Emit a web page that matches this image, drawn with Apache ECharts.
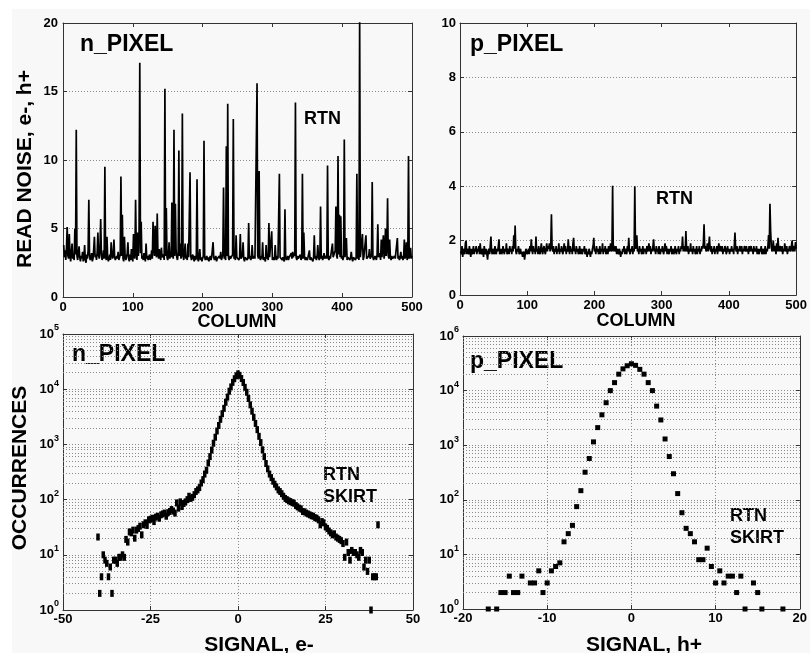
<!DOCTYPE html>
<html>
<head>
<meta charset="utf-8">
<script src="https://cdn.jsdelivr.net/npm/echarts@6/dist/echarts.min.js"></script>
<style>
  html, body { margin: 0; padding: 0; background: #ffffff; }
  #panel { position: absolute; left: 12px; top: 9px; right: 0; bottom: 0; background: #f8f8f8; }
  #chart { position: absolute; left: 0; top: 0; width: 810px; height: 653px; }
</style>
</head>
<body>
<div id="panel"></div>
<div id="chart"></div>
<script>
// Read noise per column, n-channel pixels (e-), columns 1..500
const nReadNoise = [
  3.8,2.9,3.4,2.7,3.6,5.1,3.0,2.8,4.6,3.1,2.6,3.3,3.9,2.8,3.0,2.7,5.0,3.1,12.2,3.0,2.7,3.2,3.7,2.9,2.6,
  3.0,2.8,3.3,2.6,2.9,3.8,2.7,2.5,3.1,2.8,3.4,7.1,3.0,2.7,2.9,3.2,2.6,2.8,3.5,4.4,2.9,3.1,2.7,3.3,4.7,
  3.0,2.8,3.6,5.7,3.1,2.7,2.9,3.4,2.8,9.5,3.0,2.7,4.4,2.9,2.6,2.8,3.1,2.7,4.0,3.2,2.8,3.0,4.2,2.9,2.7,
  2.6,3.0,2.8,3.3,2.7,2.9,3.1,8.8,3.0,6.0,2.8,2.6,4.4,3.0,2.7,2.9,3.2,4.0,2.8,2.6,3.1,2.7,3.5,2.9,2.6,
  4.6,3.0,2.8,7.1,3.3,2.7,4.7,3.0,4.8,17.1,3.2,5.5,2.8,3.0,2.7,3.2,2.9,2.6,3.9,2.8,3.0,2.7,2.9,3.1,2.7,
  2.9,3.4,2.8,5.5,3.6,3.0,5.2,3.3,2.9,6.1,3.2,2.8,3.5,3.0,2.7,3.6,2.9,2.8,3.1,2.7,15.2,3.0,6.5,2.9,2.7,
  3.0,4.0,2.8,3.2,2.9,6.9,3.1,2.8,12.2,3.0,6.8,3.4,2.9,2.7,3.2,10.7,3.0,3.9,2.8,3.1,13.4,3.0,2.7,3.2,3.9,
  2.8,3.0,2.7,3.9,2.9,2.8,9.1,3.0,2.7,2.9,3.1,2.8,2.6,3.0,2.7,2.9,8.6,2.8,2.6,3.0,3.5,2.7,2.9,2.6,2.8,
  3.0,11.4,2.9,2.7,2.8,3.0,2.7,2.9,2.6,2.8,3.0,2.7,2.9,2.8,4.0,2.9,2.7,2.8,3.0,2.6,2.8,2.9,2.7,3.0,2.8,
  3.3,2.7,2.9,3.1,8.0,2.8,3.0,2.7,11.0,3.0,14.1,2.9,2.7,3.0,2.8,2.9,2.7,3.1,13.0,2.8,3.0,2.7,4.5,2.9,2.8,
  3.0,2.7,2.9,4.6,2.8,2.7,3.0,4.0,2.8,2.6,2.9,2.8,3.0,2.7,2.9,5.4,2.8,3.0,2.7,2.9,3.8,2.8,2.7,3.0,2.8,
  2.9,2.7,15.6,3.0,2.8,9.2,2.9,2.7,3.0,2.8,4.0,2.7,2.9,2.8,2.6,3.8,2.8,3.0,2.7,5.4,2.9,2.8,3.0,4.8,2.7,
  2.9,2.8,2.7,3.8,2.9,2.7,3.0,2.8,2.7,9.0,2.9,2.8,3.0,2.7,2.9,2.8,2.6,6.4,2.9,2.7,2.8,3.0,2.7,2.9,2.8,
  3.0,3.2,2.8,3.3,2.9,3.2,3.0,14.2,2.9,2.7,3.0,2.8,2.7,2.9,3.1,2.7,2.9,9.0,2.8,4.7,3.0,2.7,2.9,2.8,2.7,
  2.9,2.8,3.4,2.7,2.9,3.0,2.8,2.6,2.9,4.5,2.8,3.0,2.7,2.9,3.8,3.0,2.7,2.9,6.6,2.8,3.0,2.7,2.9,3.2,2.8,
  2.7,3.0,2.8,9.6,2.9,2.7,3.0,2.8,2.9,2.7,3.9,2.9,2.8,3.0,3.4,6.6,3.0,2.8,10.3,3.1,6.0,2.9,5.9,2.8,3.0,
  2.7,3.0,11.5,2.9,2.8,4.3,2.7,2.9,3.0,2.8,2.7,2.9,3.3,2.8,2.6,2.9,2.8,3.0,2.7,2.9,9.0,2.8,3.1,2.7,20.5,
  2.9,3.0,2.8,4.6,2.7,2.9,2.8,3.0,4.5,2.8,2.7,2.9,3.0,3.5,2.8,2.7,3.0,8.4,2.9,2.7,2.8,3.0,2.9,2.7,3.1,
  5.3,2.9,2.8,3.2,2.7,4.2,2.9,3.0,4.5,2.8,3.2,5.0,3.0,3.6,7.2,3.0,2.8,4.2,2.9,2.7,3.0,2.8,2.9,2.7,3.0,
  2.8,2.7,2.9,4.3,2.8,3.0,2.7,2.9,3.3,2.8,3.0,2.7,2.9,4.2,2.8,3.0,4.0,2.7,2.9,10.3,2.8,3.0,3.6,2.8,3.0
];

// Read noise per column, p-channel pixels (h+), columns 1..500
const pReadNoise = [
  1.6,1.5,1.8,1.4,1.7,1.6,1.5,1.9,2.0,1.5,1.7,1.6,1.5,1.8,1.6,1.4,1.7,1.5,1.6,1.8,1.5,1.7,1.6,1.8,1.5,
  1.7,1.6,1.8,1.5,1.9,1.6,1.5,1.7,1.6,1.4,1.8,1.6,1.5,1.7,1.5,1.3,1.6,1.7,1.5,1.8,2.15,1.6,1.5,1.7,1.6,
  1.5,1.8,1.6,1.5,1.7,1.6,1.8,2.05,1.5,1.6,1.7,1.5,1.6,1.8,1.6,1.5,1.7,1.6,1.9,1.5,1.6,1.7,1.5,1.8,1.6,
  1.7,1.5,1.8,1.6,2.2,1.7,2.55,1.6,1.5,1.7,1.6,1.8,1.5,1.6,1.7,1.5,1.6,1.4,1.5,1.6,1.3,1.5,1.7,1.6,1.5,
  1.6,1.7,1.5,1.8,1.6,2.05,1.7,1.5,1.8,1.6,1.7,1.5,2.15,1.6,1.7,1.5,1.8,1.6,1.5,1.7,1.9,1.6,1.5,1.7,1.8,
  1.6,1.5,1.7,1.9,1.6,1.8,1.7,1.9,1.6,1.8,2.97,1.7,1.6,1.8,1.5,1.7,1.6,1.8,1.5,1.7,1.6,1.9,1.5,1.7,1.6,
  1.8,1.6,1.5,1.7,1.9,1.6,1.8,1.5,1.7,1.6,2.05,1.7,1.5,1.8,1.6,1.7,1.5,1.9,2.1,1.6,1.7,1.5,1.8,1.6,1.7,
  1.5,1.6,1.8,1.5,1.7,1.6,1.5,1.7,1.6,1.8,1.5,1.6,1.7,1.4,1.6,1.5,1.7,1.6,1.4,1.6,1.5,1.7,1.8,2.1,1.6,
  1.7,1.5,1.8,1.6,1.7,1.5,1.6,1.8,1.5,1.7,1.6,1.9,1.5,1.7,1.6,1.8,1.5,1.6,1.7,1.5,1.8,1.6,1.7,1.9,1.6,
  1.7,4.02,1.6,1.8,1.7,1.6,1.8,1.5,1.7,1.6,1.5,1.7,1.6,1.4,1.6,1.5,1.7,1.6,1.8,1.5,1.7,1.6,1.5,1.8,1.6,
  2.1,1.6,1.5,1.7,1.6,1.8,1.5,1.7,1.6,4.0,1.7,1.8,2.2,1.6,1.7,1.5,1.8,1.6,1.7,1.5,1.6,1.8,1.5,1.7,1.6,
  1.7,1.5,1.8,1.6,1.7,1.9,1.6,1.8,1.5,1.7,1.6,1.8,2.05,1.6,1.7,1.5,1.8,1.6,1.7,1.5,1.8,1.6,1.5,1.7,1.6,
  1.8,1.6,1.5,1.7,1.9,1.6,1.8,1.5,1.7,1.6,1.5,1.7,1.6,1.8,1.5,1.6,1.7,1.5,1.6,1.8,1.6,1.5,1.7,1.6,1.8,
  1.5,1.7,1.6,1.8,1.7,2.15,1.6,1.8,1.7,1.6,2.35,1.7,1.6,1.8,1.5,1.7,1.6,1.9,1.6,1.7,1.5,1.8,1.6,1.7,1.5,
  1.6,1.8,1.5,1.7,1.6,1.8,1.5,1.7,1.6,1.8,1.7,1.9,2.6,1.7,1.8,1.6,1.7,1.9,1.6,1.8,2.15,1.7,1.6,1.8,1.5,
  1.7,1.6,1.8,1.5,1.7,1.6,1.8,1.5,1.7,1.9,1.6,1.8,1.7,1.6,1.8,1.5,1.7,1.6,1.8,1.7,1.5,1.6,1.8,1.6,1.7,
  1.5,1.7,1.6,1.8,1.6,1.7,1.5,1.8,2.3,1.7,1.6,1.8,1.5,1.7,1.6,1.8,1.7,1.6,1.8,1.5,1.7,1.6,1.8,1.7,1.6,
  1.8,1.6,1.7,1.5,1.8,1.6,1.7,1.8,1.6,1.7,1.5,1.8,1.6,1.7,1.6,1.8,1.5,1.7,1.6,1.5,1.7,1.6,1.8,1.5,1.6,
  1.7,1.5,1.6,1.8,1.5,1.7,1.6,1.8,2.2,1.7,3.35,2.4,1.8,1.6,1.7,2.0,1.6,1.8,1.7,1.5,1.9,1.6,2.1,1.7,1.6,
  1.8,1.7,1.6,1.8,1.5,1.7,1.6,1.9,1.7,1.6,1.8,1.5,1.7,1.6,1.8,1.7,1.6,1.8,2.0,1.6,1.7,1.8,1.6,1.95,1.7
];

// Signal histogram, n-channel pixels: bin centres (e-) and counts
const nSignal = [
  -40,-39.5,-39,-38.5,-38,-37.5,-37,-36.5,-36,-35.5,-35,-34.5,-34,-33.5,-33,-32.5,-32,-31.5,-31,-30.5,
  -30,-29.5,-29,-28.5,-28,-27.5,-27,-26.5,-26,-25.5,-25,-24.5,-24,-23.5,-23,-22.5,-22,-21.5,-21,-20.5,
  -20,-19.5,-19,-18.5,-18,-17.5,-17,-16.5,-16,-15.5,-15,-14.5,-14,-13.5,-13,-12.5,-12,-11.5,-11,-10.5,
  -10,-9.5,-9,-8.5,-8,-7.5,-7,-6.5,-6,-5.5,-5,-4.5,-4,-3.5,-3,-2.5,-2,-1.5,-1,-0.5,
  0,0.5,1,1.5,2,2.5,3,3.5,4,4.5,5,5.5,6,6.5,7,7.5,8,8.5,9,9.5,
  10,10.5,11,11.5,12,12.5,13,13.5,14,14.5,15,15.5,16,16.5,17,17.5,18,18.5,19,19.5,
  20,20.5,21,21.5,22,22.5,23,23.5,24,24.5,25,25.5,26,26.5,27,27.5,28,28.5,29,29.5,
  30,30.5,31,31.5,32,32.5,33,33.5,34,34.5,35,35.5,36,36.5,37,37.5,38,38.5,39,39.5,
  40
];
const nCount = [
  21,2,4,10,8,7,4,6,2,8,8,7,9,9,10,9,19,17,26,25,
  28,20,28,30,33,23,35,38,34,43,44,46,40,48,50,46,53,55,57,50,
  58,61,66,62,57,87,70,91,75,85,91,100,115,105,110,123,140,150,165,200,
  230,290,340,460,600,790,1050,1350,1750,2200,2850,3600,4500,5800,7200,9200,11000,13300,15500,17500,
  19000,17800,15600,13200,10800,8800,6800,5200,4000,3100,2400,1850,1400,1080,800,600,450,360,290,250,
  215,190,170,150,140,128,115,105,100,95,92,88,86,78,74,70,68,61,60,57,
  55,53,51,50,47,46,43,35,40,38,32,30,27,25,23,24,21,20,19,18,
  16,9,17,11,8,12,11,11,10,9,12,11,6,8,5,8,1,4,4,4,
  35
];

// Signal histogram, p-channel pixels: bin centres (h+) and counts
const pSignal = [
  -17,-16,-15.5,-15,-14.5,-14,-13.5,-13,-12,-11.5,-11,-10.5,-10,-9.5,-9,-8.5,-8,-7.5,-7,-6.5,
  -6,-5.5,-5,-4.5,-4,-3.5,-3,-2.5,-2,-1.5,-1,-0.5,0,0.5,1,1.5,2,2.5,3,3.5,
  4,4.5,5,5.5,6,6.5,7,7.5,8,8.5,9,9.5,10,10.5,11,11.5,12,12.5,13,13.5,
  14.5,15,15.5,18
];
const pCount = [
  1,1,2,2,4,2,2,4,3,3,5,2,3,5,6,7,17,24,34,75,
  147,320,570,1150,2100,3600,6000,10000,14000,20000,25000,28500,31000,29000,24500,20000,14000,10000,5200,2900,
  1300,620,300,130,58,30,24,17,8,8,13,6,3,5,3,4,4,2,4,1,
  3,2,1,1
];

// Decade exponents printed on the occurrence axes
const nOccExponents = ['0', '1', '2', '3', '4', '5'];
const pOccExponents = ['0', '1', '2', '3', '4', '6'];

const FONT = '"Liberation Sans", Arial, Helvetica, sans-serif';
const INK = '#000000';
const FRAME = '#333333';
const DOTTED = { color: '#8a8a8a', width: 1, type: [1, 2] };

const chart = echarts.init(document.getElementById('chart'), null, { renderer: 'canvas' });

const tickStyle = { show: true, inside: true, length: 4, lineStyle: { color: FRAME, width: 1 } };
const lineStyleFrame = { show: true, onZero: false, lineStyle: { color: FRAME, width: 1 } };
const labelBase = { color: INK, fontFamily: FONT, fontWeight: 'bold', fontSize: 13 };

function xAxes(gridIndex, min, max, interval, margin, vGrid) {
  return [
    { type: 'value', gridIndex, position: 'bottom', min, max, interval,
      axisLine: lineStyleFrame, axisTick: tickStyle,
      axisLabel: Object.assign({ show: true, margin, formatter: v => String(v) }, labelBase),
      splitLine: { show: vGrid, lineStyle: DOTTED } },
    { type: 'value', gridIndex, position: 'top', min, max, interval,
      axisLine: lineStyleFrame, axisTick: tickStyle,
      axisLabel: { show: false }, splitLine: { show: false } }
  ];
}

function yAxesLinear(gridIndex, min, max, interval, margin) {
  return [
    { type: 'value', gridIndex, position: 'left', min, max, interval,
      axisLine: lineStyleFrame, axisTick: tickStyle,
      axisLabel: Object.assign({ show: true, margin, formatter: v => String(v) }, labelBase),
      splitLine: { show: true, lineStyle: DOTTED } },
    { type: 'value', gridIndex, position: 'right', min, max, interval,
      axisLine: lineStyleFrame, axisTick: tickStyle,
      axisLabel: { show: false }, splitLine: { show: false } }
  ];
}

function yAxesLog(gridIndex, exponents, margin) {
  const top = Math.pow(10, exponents.length - 1);
  return [
    { type: 'log', logBase: 10, gridIndex, position: 'left', min: 1, max: top, splitNumber: exponents.length - 1,
      axisLine: lineStyleFrame, axisTick: tickStyle,
      axisLabel: {
        show: true, margin,
        formatter: v => '{b|10}{s|' + exponents[Math.round(Math.log10(v))] + '}',
        rich: {
          b: { color: INK, fontFamily: FONT, fontWeight: 'bold', fontSize: 13, verticalAlign: 'middle' },
          s: { color: INK, fontFamily: FONT, fontWeight: 'bold', fontSize: 9, verticalAlign: 'middle', padding: [0, 0, 12, 0] }
        }
      },
      splitLine: { show: true, lineStyle: DOTTED } },
    { type: 'log', logBase: 10, gridIndex, position: 'right', min: 1, max: top, splitNumber: exponents.length - 1,
      axisLine: lineStyleFrame, axisTick: tickStyle,
      axisLabel: { show: false }, splitLine: { show: false } }
  ];
}

// Minor log grid values (2..9 within every decade)
function minorLogLines(decades) {
  const out = [];
  for (let k = 0; k < decades; k++) {
    for (let m = 2; m <= 9; m++) out.push({ yAxis: m * Math.pow(10, k) });
  }
  return out;
}

function minorGridSeries(axisIndex, decades) {
  return {
    type: 'line', xAxisIndex: axisIndex, yAxisIndex: axisIndex, data: [], silent: true, z: 1,
    markLine: {
      z: 1, silent: true, symbol: ['none', 'none'], label: { show: false }, animation: false,
      lineStyle: DOTTED, emphasis: { disabled: true },
      data: minorLogLines(decades)
    }
  };
}

function txt(text, x, y, size) {
  return {
    type: 'text', x, y, silent: true,
    style: { text, fill: INK, font: 'bold ' + size + 'px ' + FONT, align: 'left', verticalAlign: 'middle' }
  };
}

function centred(text, x, y, size, rotation) {
  return {
    type: 'text', x, y, silent: true, rotation: rotation || 0,
    style: { text, fill: INK, font: 'bold ' + size + 'px ' + FONT, align: 'center', verticalAlign: 'middle' }
  };
}

const option = {
  animation: false,
  backgroundColor: 'transparent',
  grid: [
    { left: 63, top: 23, width: 349, height: 274 },
    { left: 460, top: 23, width: 346, height: 272 },
    { left: 63, top: 334, width: 350, height: 276 },
    { left: 463, top: 336, width: 343, height: 273 }
  ],
  xAxis: [].concat(
    xAxes(0, 0, 500, 100, 4, false),
    xAxes(1, 0, 500, 100, 4, false),
    xAxes(2, -50, 50, 25, 3, true),
    xAxes(3, -20, 20, 10, 3, true)
  ),
  yAxis: [].concat(
    yAxesLinear(0, 0, 20, 5, 5),
    yAxesLinear(1, 0, 10, 2, 4),
    yAxesLog(2, nOccExponents, 4),
    yAxesLog(3, pOccExponents, 4)
  ),
  series: [
    { type: 'line', xAxisIndex: 0, yAxisIndex: 0, data: nReadNoise.map((v, i) => [i + 1, v]),
      symbol: 'none', showSymbol: false, silent: true, z: 3,
      lineStyle: { color: INK, width: 1.7 } },
    { type: 'line', xAxisIndex: 2, yAxisIndex: 2, data: pReadNoise.map((v, i) => [i + 1, v]),
      symbol: 'none', showSymbol: false, silent: true, z: 3,
      lineStyle: { color: INK, width: 1.7 } },
    minorGridSeries(4, 5),
    minorGridSeries(6, 5),
    { type: 'scatter', xAxisIndex: 4, yAxisIndex: 4, data: nSignal.map((s, i) => [s, nCount[i]]),
      symbol: 'rect', symbolSize: [3.5, 7], silent: true, z: 6, itemStyle: { color: INK, opacity: 1 } },
    { type: 'scatter', xAxisIndex: 6, yAxisIndex: 6, data: pSignal.map((s, i) => [s, pCount[i]]),
      symbol: 'rect', symbolSize: [5, 5], silent: true, z: 6, itemStyle: { color: INK, opacity: 1 } }
  ],
  graphic: [
    txt('n_PIXEL', 80, 45, 23),
    txt('RTN', 304, 119, 18),
    txt('p_PIXEL', 470, 45, 23),
    txt('RTN', 656, 199, 18),
    txt('n_PIXEL', 72, 355, 23),
    txt('RTN', 323, 475, 18),
    txt('SKIRT', 323, 497, 18),
    txt('p_PIXEL', 470, 362, 23),
    txt('RTN', 730, 516, 18),
    txt('SKIRT', 730, 538, 18),
    centred('COLUMN', 237, 322, 18),
    centred('COLUMN', 636, 321, 18),
    centred('SIGNAL, e-', 259, 645, 21),
    centred('SIGNAL, h+', 644, 645, 21),
    centred('READ NOISE, e-, h+', 25, 169, 21, Math.PI / 2),
    centred('OCCURRENCES', 20, 468, 21, Math.PI / 2)
  ]
};

chart.setOption(option);
</script>
</body>
</html>
